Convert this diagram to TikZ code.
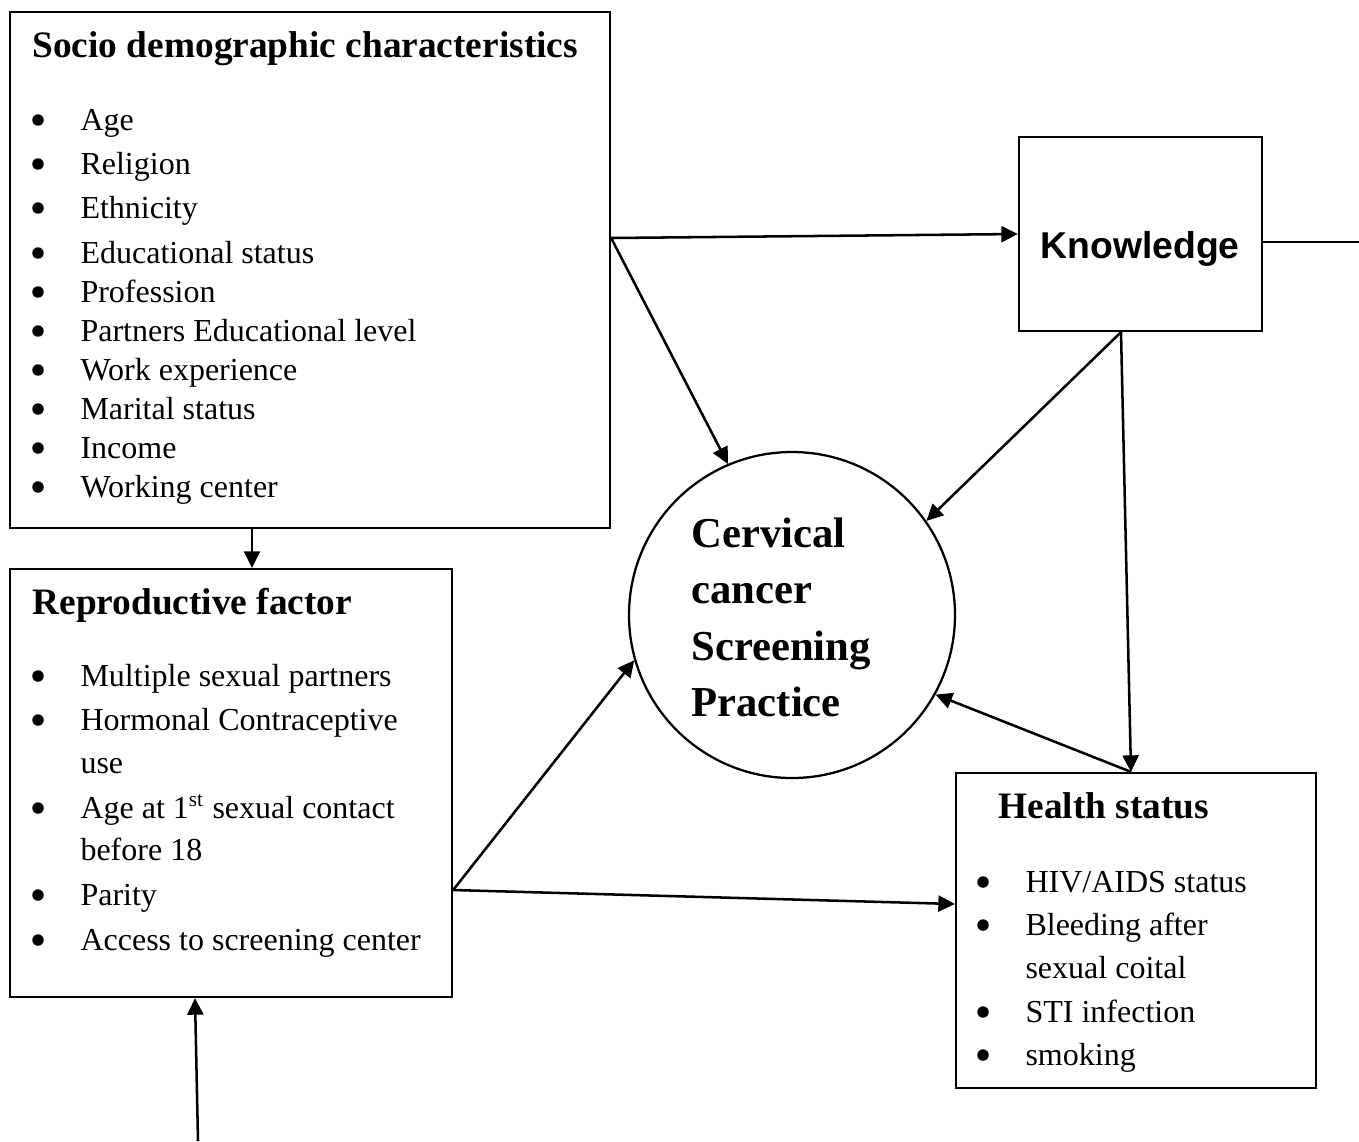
\documentclass[tikz,border=0pt]{standalone}
\usepackage{fontspec}
\setmainfont{Liberation Serif}
\newfontfamily\knowfont{Liberation Sans}
\usetikzlibrary{arrows.meta,fit}

\begin{document}
\begin{tikzpicture}[
  x=0.375pt, y=-0.375pt,
  every node/.style={inner sep=0pt},
  box/.style={draw, line width=0.85pt, inner sep=0pt},
  arr/.style={line width=0.95pt, -{Triangle[length=6.2pt, width=6pt]}},
  item/.style={anchor=base west, font=\fontsize{12}{14}\selectfont},
  dot/.style={circle, fill, minimum size=4.3pt},
  head/.style={anchor=base west, font=\fontsize{14}{16}\selectfont\bfseries},
  core/.style={anchor=base west, font=\fontsize{16}{18}\selectfont\bfseries}
]
  \useasboundingbox (0,0) rectangle (1359,1141);

  %% ---- boxes and circle ----------------------------------------------
  \node[box, fit={(10,12) (610,528)}]     (socio)  {};
  \node[box, fit={(1019,137) (1262,331)}] (know)   {};
  \node[box, fit={(10,569) (452,997)}]    (repro)  {};
  \node[box, fit={(956,773) (1316,1088)}] (health) {};
  \node[draw, circle, line width=0.85pt, minimum size=122.25pt] (prac) at (792,615) {};

  %% ---- socio demographic characteristics -------------------------------
  \node[head] (socioHead) at (32,57) {Socio demographic characteristics};
  \foreach \y/\t in {130/Age, 174/Religion, 218/Ethnicity, 263/Educational status,
                     302/Profession, 341/Partners Educational level,
                     380/Work experience, 419/Marital status, 458/Income,
                     497/Working center} {
    \node[dot]  (sDot\y)  at (38,\y-10) {};
    \node[item] (sItem\y) at (80,\y) {\t};
  }

  %% ---- knowledge -------------------------------------------------------
  \node[anchor=base, font=\knowfont\fontsize{14}{16}\selectfont\bfseries]
    (knowText) at (1140,258) {Knowledge};

  %% ---- reproductive factor ---------------------------------------------
  \node[head] (reproHead) at (32,614) {Reproductive factor};
  \foreach \y/\t in {686/Multiple sexual partners, 730/Hormonal Contraceptive,
                     818/{Age at 1\textsuperscript{st} sexual contact},
                     905/Parity, 950/Access to screening center} {
    \node[dot]  (rDot\y)  at (38,\y-10) {};
    \node[item] (rItem\y) at (80,\y) {\t};
  }
  \node[item] (rItem773) at (80,773) {use};
  \node[item] (rItem860) at (80,860) {before 18};

  %% ---- health status ---------------------------------------------------
  \node[head] (healthHead) at (998,818) {Health status};
  \foreach \y/\t in {892/{HIV/AIDS status}, 935/Bleeding after,
                     1022/STI infection, 1065/smoking} {
    \node[dot]  (hDot\y)  at (983,\y-10) {};
    \node[item] (hItem\y) at (1025,\y) {\t};
  }
  \node[item] (hItem978) at (1025,978) {sexual coital};

  %% ---- circle text -----------------------------------------------------
  \node[core] (pracA) at (691,547) {Cervical};
  \node[core] (pracB) at (691,603) {cancer};
  \node[core] (pracC) at (691,660) {Screening};
  \node[core] (pracD) at (691,716) {Practice};

  %% ---- connectors ------------------------------------------------------
  \coordinate (sOut)  at (socio.east |- 0,238);
  \coordinate (kOut)  at (know.south -| 1121,0);
  \coordinate (hIn)   at (health.north -| 1131,0);
  \coordinate (rOut)  at (repro.east |- 0,890);
  \coordinate (kEdge) at (1359,242);
  \coordinate (base)  at (198,1141);

  \draw[arr] (sOut) -- (know.west);
  \draw[arr] (sOut) -- (prac.113.7);
  \draw[arr] (socio.south -| 252,0) -- (repro.north -| 252,0);
  \draw[line width=0.55pt] (know.east |- kEdge) -- (kEdge);
  \draw[arr] (kOut) -- (prac.35.5);
  \draw[arr] (kOut) -- (hIn);
  \draw[arr] (hIn) -- (prac.331);
  \draw[arr] (rOut) -- (prac.196.7);
  \draw[arr] (rOut) -- (health.west |- 0,904);
  \draw[arr] (base) -- (repro.south -| 195,0);

\end{tikzpicture}
\end{document}
